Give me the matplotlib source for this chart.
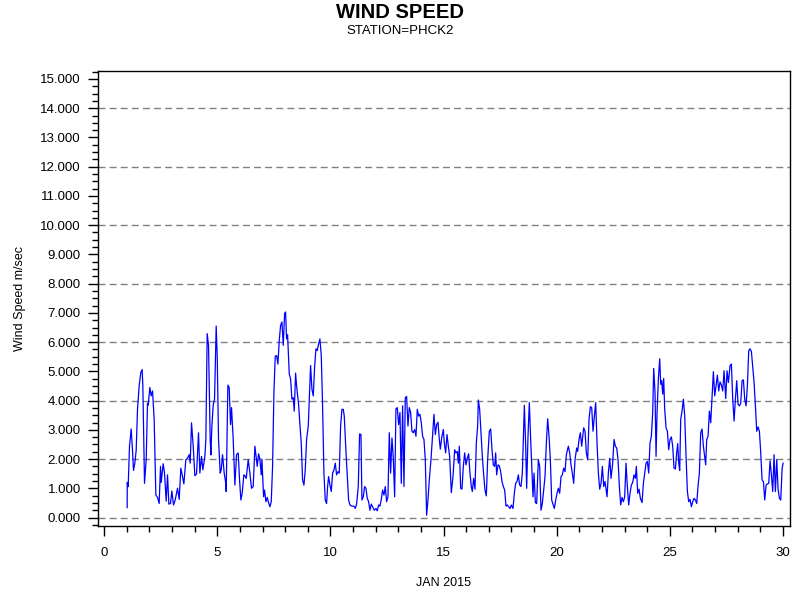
import numpy as np
import matplotlib
matplotlib.use("Agg")
import matplotlib.pyplot as plt
from matplotlib.ticker import MultipleLocator, FormatStrFormatter

plt.rcParams['font.family'] = ['Liberation Sans', 'DejaVu Sans']

# day of month (JAN 2015)
days = [
    1.017, 1.02, 1.061, 1.12, 1.194, 1.253, 1.297, 1.356, 1.415, 1.474, 1.547, 1.621, 1.68, 1.709,
    1.783, 1.857, 1.916, 1.945, 2.019, 2.078, 2.137, 2.21, 2.284, 2.358, 2.431, 2.49, 2.52, 2.608,
    2.667, 2.741, 2.80, 2.859, 2.932, 2.991, 3.065, 3.139, 3.198, 3.242, 3.316, 3.389, 3.448, 3.522,
    3.61, 3.684, 3.758, 3.802, 3.861, 3.935, 4.008, 4.082, 4.17, 4.229, 4.303, 4.362, 4.45, 4.494,
    4.553, 4.612, 4.686, 4.716, 4.76, 4.819, 4.878, 4.951, 4.996, 5.054, 5.128, 5.172, 5.231, 5.305,
    5.364, 5.393, 5.467, 5.526, 5.585, 5.629, 5.703, 5.777, 5.85, 5.924, 5.983, 6.042, 6.10, 6.174,
    6.219, 6.278, 6.366, 6.44, 6.513, 6.587,
    6.662, 6.765, 6.824, 6.883, 6.942, 6.972, 7.045, 7.089, 7.148, 7.207, 7.266, 7.325, 7.384, 7.443,
    7.502, 7.561, 7.62, 7.679, 7.738, 7.797, 7.856, 7.915, 7.974, 8.018, 8.062, 8.106, 8.18, 8.239,
    8.298, 8.357, 8.401, 8.46, 8.504, 8.592, 8.651, 8.71, 8.769, 8.828, 8.887, 8.946, 9.02, 9.064,
    9.123, 9.182, 9.241, 9.30, 9.359, 9.418, 9.477, 9.536, 9.595, 9.653, 9.712, 9.771, 9.83, 9.875,
    9.919, 9.978, 10.037, 10.096, 10.155, 10.214, 10.272, 10.331, 10.39, 10.449, 10.508, 10.567, 10.611, 10.685,
    10.744, 10.803, 10.862, 10.95, 11.039, 11.098, 11.157, 11.23, 11.289, 11.348, 11.392, 11.451, 11.51, 11.569,
    11.628, 11.687, 11.746, 11.805, 11.864, 11.938, 12.011, 12.07, 12.129, 12.188, 12.247, 12.306, 12.365, 12.424,
    12.483, 12.542, 12.601, 12.66, 12.719, 12.778, 12.837, 12.895, 12.954, 13.013, 13.072, 13.131, 13.19, 13.249,
    13.308, 13.367, 13.426, 13.485, 13.544, 13.603, 13.662, 13.721, 13.78, 13.839, 13.898, 13.956, 14.015, 14.074,
    14.133, 14.192, 14.251, 14.31, 14.369,
    14.443, 14.502, 14.576, 14.635, 14.694, 14.753, 14.812, 14.856, 14.915, 14.989, 15.033, 15.092, 15.151, 15.21,
    15.269, 15.342, 15.416, 15.49, 15.548, 15.607, 15.652, 15.696, 15.755, 15.814, 15.873, 15.932, 15.99, 16.05,
    16.108, 16.167, 16.226, 16.27, 16.329, 16.388, 16.447, 16.506, 16.536, 16.595, 16.654, 16.713, 16.772, 16.83,
    16.889, 16.948, 17.022, 17.081, 17.14, 17.199, 17.258, 17.302, 17.346, 17.405, 17.464, 17.523, 17.582, 17.641,
    17.70, 17.759, 17.818, 17.877, 17.936, 17.995, 18.068, 18.127, 18.186, 18.245, 18.304, 18.363, 18.422, 18.481,
    18.57, 18.628, 18.672, 18.731, 18.79, 18.849, 18.908, 18.952, 18.997, 19.056, 19.115, 19.188, 19.247, 19.306,
    19.365, 19.424, 19.483, 19.542, 19.601, 19.66, 19.719, 19.778, 19.837, 19.896, 19.955, 20.014, 20.072, 20.131,
    20.19, 20.249, 20.308, 20.367, 20.426, 20.515, 20.574, 20.632, 20.691, 20.75, 20.809, 20.883, 20.927, 20.986,
    21.045, 21.104, 21.192, 21.251, 21.31, 21.369, 21.428, 21.487, 21.546, 21.605, 21.664, 21.723, 21.782, 21.841,
    21.90, 21.959, 22.018, 22.077, 22.136, 22.224, 22.283, 22.342, 22.401,
    22.474, 22.533, 22.592, 22.651, 22.71, 22.769, 22.828, 22.886, 22.945, 23.004, 23.063, 23.122, 23.181, 23.24,
    23.299, 23.358, 23.417, 23.476, 23.52, 23.579, 23.638, 23.697, 23.771, 23.83, 23.889, 23.948, 24.006, 24.065,
    24.124, 24.183, 24.242, 24.286, 24.345, 24.39, 24.434, 24.493, 24.552, 24.596, 24.64, 24.684, 24.728, 24.773,
    24.832, 24.891, 24.95, 25.008, 25.067, 25.126, 25.185, 25.244, 25.303, 25.347, 25.392, 25.436, 25.48, 25.539,
    25.598, 25.657, 25.716, 25.775, 25.834, 25.893, 25.952, 26.01, 26.069, 26.128, 26.187, 26.246, 26.305, 26.364,
    26.423, 26.482, 26.541, 26.585, 26.629, 26.688, 26.747, 26.806, 26.865, 26.924, 26.983, 27.042, 27.101, 27.16,
    27.219, 27.278, 27.337, 27.396, 27.469, 27.528, 27.587, 27.661, 27.72, 27.779, 27.838, 27.897, 27.956, 28.015,
    28.074, 28.133, 28.192, 28.25, 28.309, 28.368, 28.427, 28.486, 28.545, 28.604, 28.663, 28.722, 28.781, 28.84,
    28.899, 28.958, 29.017, 29.076, 29.135, 29.194, 29.253, 29.312, 29.37, 29.429, 29.488, 29.547, 29.606, 29.665,
    29.724, 29.783, 29.842, 29.901, 29.96, 30.004,
]

# wind speed in m/sec
speed = [
    0.34, 1.20, 1.06, 2.44, 3.03, 2.30, 1.61, 1.86, 2.30, 3.70, 4.51, 4.97, 5.06, 4.51,
    1.17, 1.98, 3.91, 3.84, 4.45, 4.16, 4.33, 3.36, 0.77, 0.69, 0.48, 1.75, 1.20, 1.84,
    1.52, 0.56, 1.46, 0.46, 0.48, 0.91, 0.43, 0.60, 0.83, 1.00, 0.62, 1.69, 1.46, 1.15,
    1.98, 2.03, 2.15, 1.86, 3.24, 2.44, 1.43, 1.49, 2.90, 1.52, 2.09, 1.63, 2.09, 2.67,
    6.29, 5.89, 2.67, 2.14, 3.13, 3.84, 4.05, 6.55, 5.54, 2.67, 1.52, 1.63, 2.15, 1.52,
    1.23, 0.89, 4.53, 4.45, 3.18, 3.76, 2.67, 1.11, 2.15, 2.21, 1.29, 0.60, 0.83, 1.46,
    1.43, 1.34, 1.98, 1.52, 1.00, 1.06,
    2.44, 1.75, 2.18, 2.00, 1.46, 2.00, 0.71, 0.94, 0.54, 0.69, 0.51, 0.37, 0.54, 1.75,
    4.28, 5.52, 5.54, 5.25, 6.06, 6.57, 6.69, 5.89, 6.98, 7.03, 6.11, 6.25, 4.91, 4.74,
    4.05, 4.10, 3.64, 4.94, 4.51, 3.87, 3.18, 2.55, 1.29, 1.11, 1.63, 2.67, 3.13, 4.05,
    5.20, 4.39, 4.16, 5.14, 5.77, 5.71, 5.94, 6.11, 5.54, 3.82, 1.52, 0.60, 0.48, 1.06,
    1.40, 1.11, 0.89, 1.52, 1.63, 1.86, 1.46, 1.57, 1.52, 3.13, 3.70, 3.70, 3.47, 2.26,
    1.40, 0.60, 0.43, 0.39, 0.39, 0.31, 0.46, 1.06, 2.86, 2.84, 0.60, 0.71, 1.06, 1.00,
    0.66, 0.54, 0.25, 0.46, 0.37, 0.25, 0.31, 0.23, 0.43, 0.39, 0.62, 0.94, 0.77, 1.06,
    0.54, 0.71, 2.90, 1.52, 2.72, 2.03, 0.71, 3.72, 3.76, 3.18, 3.59, 1.17, 3.82, 1.06,
    4.10, 4.14, 3.13, 3.76, 3.59, 2.95, 2.90, 3.01, 2.78, 3.70, 3.47, 3.53, 3.24, 2.78,
    2.67, 1.98, 0.08, 0.60, 1.29,
    1.98, 2.67, 3.53, 2.84, 3.18, 3.26, 2.67, 2.34, 2.72, 3.01, 2.55, 2.21, 2.84, 2.44,
    2.09, 0.85, 1.40, 2.32, 2.21, 2.26, 1.86, 2.44, 1.00, 0.97, 1.75, 2.21, 1.80, 2.03,
    2.18, 1.52, 1.06, 0.89, 1.34, 0.97, 2.55, 3.13, 4.02, 3.70, 2.90, 2.09, 1.46, 0.94,
    0.74, 1.98, 2.95, 3.03, 2.32, 1.80, 1.75, 2.21, 1.46, 1.80, 1.77, 1.57, 1.23, 1.06,
    0.94, 0.39, 0.43, 0.37, 0.31, 0.43, 0.31, 0.83, 1.17, 1.23, 1.46, 1.11, 1.06, 1.52,
    3.84, 2.44, 1.00, 2.78, 3.93, 2.67, 1.52, 0.71, 1.52, 0.51, 0.48, 1.98, 1.75, 0.25,
    0.48, 0.94, 1.40, 2.55, 3.38, 2.78, 1.98, 0.60, 0.46, 0.31, 0.60, 0.83, 1.00, 0.83,
    1.40, 1.46, 1.69, 1.57, 2.15, 2.44, 2.21, 1.80, 1.52, 1.17, 1.98, 2.38, 2.26, 2.67,
    2.90, 2.44, 3.07, 2.95, 2.21, 1.98, 3.36, 3.79, 3.76, 2.95, 3.47, 3.93, 2.55, 1.52,
    0.97, 1.17, 1.75, 1.06, 1.23, 0.71, 1.52, 2.03, 1.34,
    1.86, 2.67, 2.44, 2.38, 1.98, 1.06, 0.43, 0.69, 0.54, 0.71, 1.86, 1.06, 0.43, 0.83,
    1.11, 1.20, 1.46, 1.34, 1.75, 0.83, 0.97, 0.66, 0.51, 1.17, 1.52, 1.86, 1.92, 1.52,
    2.55, 2.78, 3.59, 5.10, 4.28, 2.09, 3.59, 4.74, 5.43, 4.56, 4.68, 4.22, 4.76, 3.70,
    3.07, 2.95, 2.32, 2.67, 2.76, 2.44, 1.69, 1.66, 2.21, 2.53, 1.86, 1.61, 3.36, 3.64,
    4.05, 3.47, 2.09, 0.89, 0.54, 0.62, 0.37, 0.54, 0.66, 0.60, 0.48, 1.08, 1.52, 2.90,
    3.03, 2.44, 2.09, 1.80, 2.67, 2.78, 3.64, 3.24, 4.10, 4.99, 4.16, 4.51, 4.87, 4.33,
    4.64, 4.53, 4.33, 5.02, 4.07, 5.02, 4.62, 5.20, 5.25, 4.05, 3.30, 4.05, 4.68, 3.87,
    3.82, 3.91, 4.68, 4.71, 4.05, 3.82, 4.51, 5.71, 5.77, 5.68, 5.14, 4.62, 3.82, 2.95,
    3.10, 2.95, 2.21, 1.29, 1.23, 0.60, 1.11, 1.15, 1.17, 1.94, 1.46, 0.89, 2.15, 0.89,
    1.98, 0.97, 0.66, 0.60, 1.66, 1.86,
]

fig = plt.figure(figsize=(8, 6), dpi=100)
ax = fig.add_axes([0.122, 0.1233, 0.8655, 0.7587])

ax.plot(days, speed, color="#0000ff", linewidth=0.9, zorder=3)

for g in range(0, 15, 2):
    ax.axhline(g, color="#808080", linestyle=(0, (5, 3)), linewidth=1.0, zorder=1)

ax.set_xlim(-0.29, 30.31)
ax.set_ylim(-0.29, 15.28)

ax.xaxis.set_major_locator(MultipleLocator(5))
ax.xaxis.set_minor_locator(MultipleLocator(1))
ax.yaxis.set_major_locator(MultipleLocator(1))
ax.yaxis.set_minor_locator(MultipleLocator(0.25))
ax.yaxis.set_major_formatter(FormatStrFormatter("%.3f"))

ax.tick_params(axis="both", which="major", direction="out", length=7, width=1,
               labelsize=9.5, colors="black")
ax.tick_params(axis="both", which="minor", direction="out", length=4, width=1)
ax.tick_params(axis="x", which="major", pad=8)
ax.tick_params(axis="y", which="major", pad=5)

for s in ax.spines.values():
    s.set_linewidth(1.0)
    s.set_color("black")

ax.set_xlabel("JAN 2015", fontsize=9, labelpad=13)
ax.set_ylabel("Wind Speed m/sec", fontsize=9, labelpad=10)

fig.text(0.5, 1 - 12 / 600, "WIND SPEED", ha="center", va="center", fontsize=14.5, fontweight="bold")
fig.text(0.5, 1 - 31 / 600, "STATION=PHCK2", ha="center", va="center", fontsize=9.5)

fig.savefig("out.png", dpi=100)
